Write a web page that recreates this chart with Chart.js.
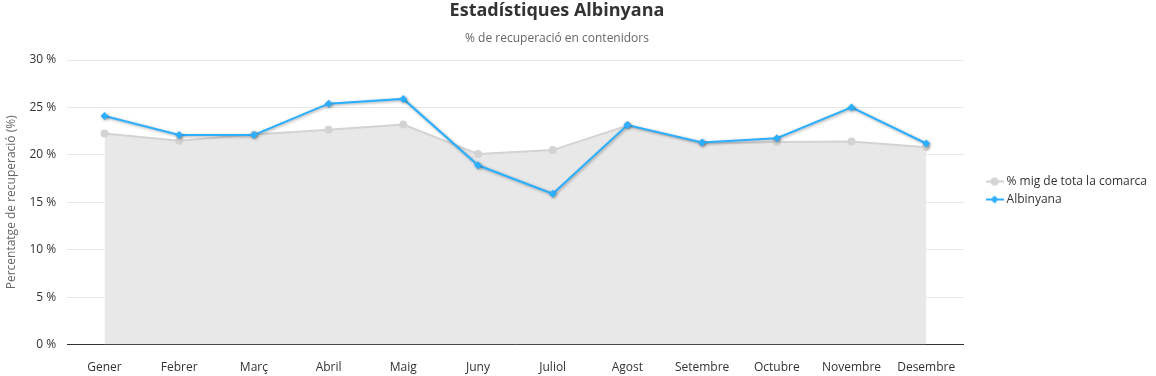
<!DOCTYPE html>
<html>
<head>
<meta charset="utf-8">
<script src="https://cdn.jsdelivr.net/npm/chart.js@4/dist/chart.umd.min.js"></script>
<style>
html,body{margin:0;padding:0;background:#fff;}
#wrap{width:1156px;height:376px;position:relative;}
</style>
</head>
<body>
<div id="wrap"><canvas id="c" width="1156" height="376"></canvas></div>
<script>
const categories = ['Gener','Febrer','Març','Abril','Maig','Juny','Juliol','Agost','Setembre','Octubre','Novembre','Desembre'];
const comarcaValues = [22.25, 21.5, 22.15, 22.65, 23.2, 20.1, 20.5, 23.1, 21.2, 21.35, 21.4, 20.8];
const albinyanaValues = [24.1, 22.1, 22.1, 25.4, 25.9, 18.9, 15.9, 23.15, 21.3, 21.75, 25.0, 21.2];
const yTicks = [0, 5, 10, 15, 20, 25, 30];

const FONT = "'Open Sans', 'Noto Sans', sans-serif";
const BLUE = '#2caffe';
const GREY = '#d3d3d3';

function legendIcon(color, shape) {
  const cv = document.createElement('canvas');
  cv.width = 18; cv.height = 10;
  const g = cv.getContext('2d');
  g.strokeStyle = color; g.lineWidth = 2;
  g.beginPath(); g.moveTo(0, 5); g.lineTo(18, 5); g.stroke();
  g.fillStyle = color;
  g.beginPath();
  if (shape === 'circle') { g.arc(9, 5, 4, 0, Math.PI * 2); }
  else { g.moveTo(9, 1); g.lineTo(13, 5); g.lineTo(9, 9); g.lineTo(5, 5); g.closePath(); }
  g.fill();
  return cv;
}
const icons = [legendIcon(GREY, 'circle'), legendIcon(BLUE, 'diamond')];

const shadowPlugin = {
  id: 'shadow',
  beforeDatasetDraw(chart, args) {
    if (args.index === 1) {
      const ctx = chart.ctx;
      ctx.save();
      ctx.shadowColor = 'rgba(0,0,0,0.35)';
      ctx.shadowBlur = 3;
      ctx.shadowOffsetX = 1;
      ctx.shadowOffsetY = 1;
    }
  },
  afterDatasetDraw(chart, args) {
    if (args.index === 1) chart.ctx.restore();
  }
};

const LEGEND_EXTRA = 14, LEGEND_SHIFT = 19, LEGEND_UP = 5, TITLE_SHIFT = -21;
const layoutTweakPlugin = {
  id: 'layoutTweak',
  afterInit(chart) {
    const lg = chart.legend;
    if (lg && !lg._gapWrapped) {
      lg._gapWrapped = true;
      const fit = lg.fit;
      lg.fit = function () { fit.call(this); this.width += LEGEND_EXTRA; };
      const draw = lg.draw;
      lg.draw = function (a) {
        this.left += LEGEND_SHIFT; this.right += LEGEND_SHIFT;
        this.top -= LEGEND_UP; this.bottom -= LEGEND_UP;
        draw.call(this, a);
        this.left -= LEGEND_SHIFT; this.right -= LEGEND_SHIFT;
        this.top += LEGEND_UP; this.bottom += LEGEND_UP;
      };
    }
    (chart.boxes || []).forEach(b => {
      if (b !== lg && b.options && typeof b.options.text === 'string' && !b._shiftWrapped) {
        b._shiftWrapped = true;
        const d = b.draw;
        b.draw = function (a) {
          const ctx = this.ctx || chart.ctx;
          ctx.save(); ctx.translate(TITLE_SHIFT, 0); d.call(this, a); ctx.restore();
        };
      }
    });
  }
};

new Chart(document.getElementById('c'), {
  type: 'line',
  data: {
    labels: categories,
    datasets: [
      {
        label: '% mig de tota la comarca',
        data: comarcaValues,
        order: 2,
        borderColor: GREY,
        backgroundColor: '#e8e8e8',
        fill: 'origin',
        borderWidth: 2,
        pointRadius: 4,
        pointHoverRadius: 4,
        pointBackgroundColor: GREY,
        pointBorderColor: GREY,
        pointBorderWidth: 0,
        pointStyle: 'circle',
        tension: 0
      },
      {
        label: 'Albinyana',
        data: albinyanaValues,
        order: 1,
        borderColor: BLUE,
        backgroundColor: BLUE,
        fill: false,
        borderWidth: 2,
        pointRadius: 4,
        pointHoverRadius: 4,
        pointBackgroundColor: BLUE,
        pointBorderColor: BLUE,
        pointBorderWidth: 0,
        pointStyle: 'rectRot',
        tension: 0
      }
    ]
  },
  options: {
    responsive: false,
    animation: false,
    layout: { padding: { left: 4, right: 4, top: 0, bottom: -15 } },
    plugins: {
      title: {
        display: true,
        text: 'Estadístiques Albinyana',
        color: '#333333',
        font: { family: FONT, size: 18, weight: 'bold' },
        padding: { top: 0, bottom: 4 }
      },
      subtitle: {
        display: true,
        text: '% de recuperació en contenidors',
        color: '#666666',
        font: { family: FONT, size: 12 },
        padding: { top: 6, bottom: 14 }
      },
      legend: {
        position: 'right',
        align: 'center',
        labels: {
          color: '#333333',
          font: { family: FONT, size: 12 },
          usePointStyle: true,
          padding: 6,
          generateLabels(chart) {
            return chart.data.datasets.map((ds, i) => ({
              text: ds.label,
              fillStyle: ds.borderColor,
              strokeStyle: ds.borderColor,
              fontColor: '#333333',
              lineWidth: 0,
              pointStyle: icons[i],
              hidden: !chart.isDatasetVisible(i),
              datasetIndex: i
            }));
          }
        }
      },
      tooltip: { enabled: false }
    },
    scales: {
      x: {
        type: 'category',
        offset: true,
        grid: { display: false, drawTicks: false },
        border: { display: true, color: '#333333', width: 1 },
        ticks: {
          color: '#333333',
          font: { family: FONT, size: 12 },
          padding: 16,
          maxRotation: 0,
          autoSkip: false
        }
      },
      y: {
        min: 0,
        max: 30,
        afterBuildTicks(axis) { axis.ticks = yTicks.map(v => ({ value: v })); },
        grid: { color: '#e6e6e6', drawTicks: false },
        border: { display: false },
        ticks: {
          color: '#333333',
          font: { family: FONT, size: 12 },
          padding: 11,
          callback: v => v + ' %'
        },
        title: {
          display: true,
          text: 'Percentatge de recuperació (%)',
          color: '#666666',
          font: { family: FONT, size: 12 },
          padding: { top: 0, bottom: 0 }
        }
      }
    }
  },
  plugins: [shadowPlugin, layoutTweakPlugin]
});
</script>
</body>
</html>
